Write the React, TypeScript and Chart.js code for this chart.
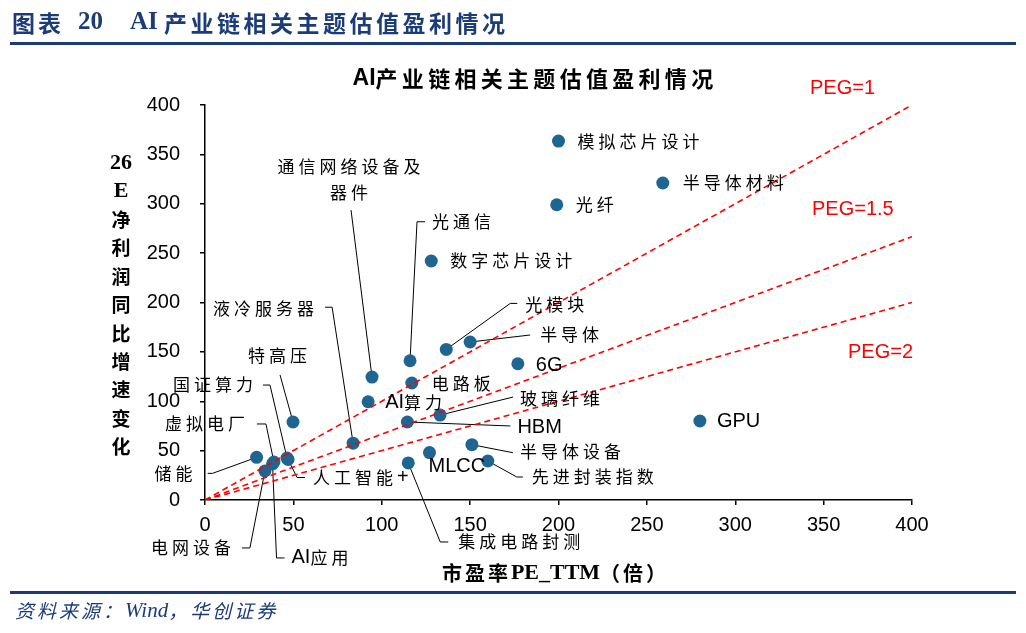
import React, { useEffect, useRef } from 'react';
import { Chart, registerables } from 'chart.js';

Chart.register(...registerables);

// ---------- data ----------
const categories = ['储能', '电网设备', 'AI应用', '虚拟电厂', '国证算力', '人工智能+', '特高压', '液冷服务器', 'AI算力', '通信网络设备及器件', '光通信', '电路板', 'HBM', '集成电路封测', 'MLCC', '玻璃纤维', '光模块', '半导体', '半导体设备', '先进封装指数', '6G', '数字芯片设计', '光纤', '模拟芯片设计', '半导体材料', 'GPU'];
const peTTM = [29.2, 33.9, 38.2, 39.0, 46.4, 47.0, 49.8, 83.8, 92.3, 94.5, 116.0, 117.0, 114.5, 115.0, 127.0, 133.0, 136.5, 150.0, 151.0, 160.0, 177.0, 128.0, 199.0, 200.0, 259.0, 280.0];
const growth26E = [43.2, 29.4, 36.5, 38.5, 42.5, 41.0, 79.0, 57.5, 99.5, 124.5, 141.0, 118.5, 79.0, 37.5, 48.0, 86.0, 152.5, 160.0, 56.0, 39.5, 138.0, 242.0, 299.0, 363.5, 321.0, 80.0];
const pegLevels = [1, 1.5, 2];
const pegLabels = ['PEG=1', 'PEG=1.5', 'PEG=2'];
const axisMin = 0;
const axisMax = 400;
const axisStep = 50;

const chartTitle = 'AI产业链相关主题估值盈利情况';
const xTitle = '市盈率PE_TTM（倍）';
const yTitleParts = ['26', 'E', '净', '利', '润', '同', '比', '增', '速', '变', '化'];
const headerLabel = '图表';
const headerNumber = '20';
const headerRight = 'AI 产业链相关主题估值盈利情况';
const sourceText = '资料来源：Wind，华创证券';

// ---------- layout of annotations (pixel offsets from each point) ----------
type Lay = { dx: number; dy: number; leader?: number[][]; wrap?: number };
const labelLayout: Lay[] = [
  { dx: -102, dy: 16, leader: [[-49, 16], [-44, 16], [0, 0]] },
  { dx: -114, dy: 77, leader: [[-23, 77], [-15, 77], [0, 0]] },
  { dx: 19, dy: 94, leader: [[12, 94], [4, 94], [0, 0]] },
  { dx: -109, dy: -38, leader: [[-17, -38], [-8, -38], [0, 0]] },
  { dx: -114, dy: -73, leader: [[-24, -73], [-17, -73], [0, 0]] },
  { dx: 25, dy: 18, leader: [[17, 18], [9, 18], [0, 0]] },
  { dx: -45, dy: -66, leader: [[-13, -47], [0, 0]] },
  { dx: -140, dy: -135, leader: [[-28, -136], [-21, -136], [0, 0]] },
  { dx: 17, dy: 1 },
  { dx: -21, dy: -211, wrap: 7, leader: [[-21, -167], [0, 0]] },
  { dx: 22, dy: -139, leader: [[15, -139], [7, -139], [0, 0]] },
  { dx: 20, dy: 1 },
  { dx: 110, dy: 5, leader: [[103, 4], [0, 0]] },
  { dx: 50, dy: 79, leader: [[40, 79], [32, 79], [0, 0]] },
  { dx: -1, dy: 14 },
  { dx: 80, dy: -17, leader: [[73, -18], [0, 0]] },
  { dx: 79, dy: -45, leader: [[71, -46], [64, -46], [0, 0]] },
  { dx: 70, dy: -7, leader: [[60, -7], [0, 0]] },
  { dx: 48, dy: 7, leader: [[41, 8], [0, 0]] },
  { dx: 44, dy: 16, leader: [[35, 16], [29, 16], [0, 0]] },
  { dx: 18, dy: 2 },
  { dx: 19, dy: 0 },
  { dx: 19, dy: 0 },
  { dx: 19, dy: 1 },
  { dx: 20, dy: 0 },
  { dx: 17, dy: 0 },
];
const pegLabelOffsets = [[-102, -17], [-100, -27], [-64, 50]];

const DOT = '#1E6591';
const NAVY = '#1B3C78';
const CJK = '"Noto Sans CJK SC"';
const LATIN = '"Liberation Sans", Arial';
const SERIF = '"Liberation Serif", "Times New Roman"';

type Run = { t: string; cjk: boolean };
function splitRuns(text: string): Run[] {
  const out: Run[] = [];
  for (const ch of text) {
    const cjk = ch.charCodeAt(0) > 0x2e80;
    const last = out[out.length - 1];
    if (last && last.cjk === cjk) last.t += ch;
    else out.push({ t: ch, cjk });
  }
  return out;
}

type MixOpts = { latin: string; cjk: string; spacing: number; align: 'left' | 'center'; color: string };
function drawMixed(ctx: CanvasRenderingContext2D, text: string, x: number, y: number, o: MixOpts) {
  const runs = splitRuns(text);
  const anyCtx = ctx as any;
  const widths = runs.map((r) => {
    ctx.font = r.cjk ? o.cjk : o.latin;
    anyCtx.letterSpacing = r.cjk ? o.spacing + 'px' : '0px';
    return ctx.measureText(r.t).width;
  });
  const total = widths.reduce((a, b) => a + b, 0);
  let cx = o.align === 'center' ? x - total / 2 : x;
  ctx.textAlign = 'left';
  ctx.textBaseline = 'middle';
  ctx.fillStyle = o.color;
  runs.forEach((r, i) => {
    ctx.font = r.cjk ? o.cjk : o.latin;
    anyCtx.letterSpacing = r.cjk ? o.spacing + 'px' : '0px';
    ctx.fillText(r.t, cx, y);
    cx += widths[i];
  });
  anyCtx.letterSpacing = '0px';
}

const annotationPlugin = {
  id: 'annotations',
  beforeDatasetsDraw(chart: any) {
    const ctx: CanvasRenderingContext2D = chart.ctx;
    const xs = chart.scales.x;
    const ys = chart.scales.y;
    ctx.save();
    ctx.strokeStyle = '#000';
    ctx.lineWidth = 1;
    categories.forEach((_, i) => {
      const lay = labelLayout[i];
      if (!lay.leader) return;
      const px = xs.getPixelForValue(peTTM[i]);
      const py = ys.getPixelForValue(growth26E[i]);
      ctx.beginPath();
      lay.leader.forEach((p, k) => {
        if (k === 0) ctx.moveTo(px + p[0], py + p[1]);
        else ctx.lineTo(px + p[0], py + p[1]);
      });
      ctx.stroke();
    });
    ctx.restore();
  },
  afterDatasetsDraw(chart: any) {
    const ctx: CanvasRenderingContext2D = chart.ctx;
    const xs = chart.scales.x;
    const ys = chart.scales.y;
    ctx.save();
    const opts: MixOpts = { latin: `20px ${LATIN}`, cjk: `17px ${CJK}`, spacing: 4, align: 'left', color: '#000' };
    categories.forEach((name, i) => {
      const lay = labelLayout[i];
      const px = xs.getPixelForValue(peTTM[i]);
      const py = ys.getPixelForValue(growth26E[i]);
      if (lay.wrap) {
        const lines = [name.slice(0, lay.wrap), name.slice(lay.wrap)];
        lines.forEach((ln, k) => drawMixed(ctx, ln, px + lay.dx, py + lay.dy + k * 26, { ...opts, align: 'center' }));
      } else {
        drawMixed(ctx, name, px + lay.dx, py + lay.dy, opts);
      }
    });
    pegLevels.forEach((peg, i) => {
      const ex = xs.getPixelForValue(axisMax);
      const ey = ys.getPixelForValue(axisMax / peg);
      ctx.font = `20px ${LATIN}`;
      ctx.fillStyle = '#FF0000';
      ctx.textAlign = 'left';
      ctx.textBaseline = 'middle';
      ctx.fillText(pegLabels[i], ex + pegLabelOffsets[i][0], ey + pegLabelOffsets[i][1]);
    });
    ctx.restore();
  },
  afterDraw(chart: any) {
    const ctx: CanvasRenderingContext2D = chart.ctx;
    const area = chart.chartArea;
    ctx.save();
    // header
    const hdr: MixOpts = { latin: `bold 25px ${SERIF}`, cjk: `bold 23px ${CJK}`, spacing: 3, align: 'left', color: NAVY };
    drawMixed(ctx, headerLabel, 12, 23, hdr);
    drawMixed(ctx, headerNumber, 78, 23, hdr);
    drawMixed(ctx, headerRight, 130, 23, { ...hdr, spacing: 3.5 });
    ctx.fillStyle = NAVY;
    ctx.fillRect(10, 42, 1006, 3);
    // footer
    ctx.fillRect(10, 591, 1006, 3);
    drawMixed(ctx, sourceText, 15, 611, { latin: `italic 21px ${SERIF}`, cjk: `italic 19px ${CJK}`, spacing: 3, align: 'left', color: NAVY });
    // chart title
    drawMixed(ctx, chartTitle, 535, 79, { latin: `bold 23px ${LATIN}`, cjk: `bold 22px ${CJK}`, spacing: 4.3, align: 'center', color: '#000' });
    // x title
    drawMixed(ctx, xTitle, (area.left + area.right) / 2 - 3, 573, { latin: `bold 22px ${SERIF}`, cjk: `bold 20px ${CJK}`, spacing: 3, align: 'center', color: '#000' });
    // y title stacked
    yTitleParts.forEach((p, i) => {
      drawMixed(ctx, p, 121, 163 + i * 28.4, { latin: `bold 22px ${SERIF}`, cjk: `bold 19px ${CJK}`, spacing: 0, align: 'center', color: '#000' });
    });
    ctx.restore();
  },
};

export default function App() {
  const ref = useRef<HTMLCanvasElement | null>(null);
  useEffect(() => {
    if (!ref.current) return;
    const points = categories.map((_, i) => ({ x: peTTM[i], y: growth26E[i] }));
    const pegSets = pegLevels.map((peg) => ({
      type: 'line' as const,
      label: `PEG=${peg}`,
      data: [{ x: axisMin, y: axisMin / peg }, { x: axisMax, y: axisMax / peg }],
      borderColor: '#FF0000',
      borderWidth: 1.6,
      borderDash: [6, 4],
      pointRadius: 0,
      fill: false,
      order: 0,
    }));
    const chart = new Chart(ref.current, {
      type: 'scatter',
      data: {
        datasets: [
          {
            type: 'scatter',
            label: 'themes',
            data: points,
            backgroundColor: DOT,
            borderWidth: 0,
            pointRadius: 6.5,
            order: 1,
          } as any,
          ...pegSets,
        ],
      },
      options: {
        responsive: false,
        animation: false,
        devicePixelRatio: 1,
        layout: { padding: { left: 135, right: 114, top: 105, bottom: 93 } },
        plugins: { legend: { display: false }, tooltip: { enabled: false }, title: { display: false } },
        scales: {
          x: {
            type: 'linear',
            min: axisMin,
            max: axisMax,
            ticks: { stepSize: axisStep, color: '#000', font: { family: LATIN, size: 20 }, padding: 8, maxRotation: 0 },
            grid: { drawOnChartArea: false, drawTicks: true, tickLength: 5, color: '#000', lineWidth: 1.5 },
            border: { display: true, color: '#000', width: 1.5 },
            afterFit: (s: any) => { s.height = 40; },
          },
          y: {
            type: 'linear',
            min: axisMin,
            max: axisMax,
            ticks: { stepSize: axisStep, color: '#000', font: { family: LATIN, size: 20 }, padding: 20 },
            grid: { drawOnChartArea: false, drawTicks: true, tickLength: 5, color: '#000', lineWidth: 1.5 },
            border: { display: true, color: '#000', width: 1.5 },
            afterFit: (s: any) => { s.width = 70; },
          },
        },
      } as any,
      plugins: [annotationPlugin],
    });
    return () => chart.destroy();
  }, []);
  return (
    <div style={{ position: 'absolute', left: 0, top: 0, width: 1026, height: 633, background: '#fff' }}>
      <canvas ref={ref} width={1026} height={633} style={{ width: 1026, height: 633, display: 'block' }} />
    </div>
  );
}
